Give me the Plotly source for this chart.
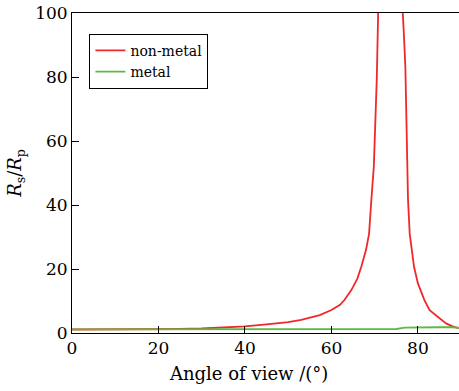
import plotly.graph_objects as go

# Non-metal R_s/R_p versus angle of view
nonmetal_x = [0, 10, 20, 25, 30, 35, 40, 45, 50, 53, 55, 57.3, 60, 62, 63, 64.6, 66, 66.9,
              68, 68.7, 69.2, 69.8, 70.2, 70.5, 70.8, 71.2, 73.5,
              76.2, 76.5, 76.8, 77.1, 77.4, 77.7, 78.1, 78.6, 79.1, 80, 81.5, 82.7,
              84, 85, 86.5, 88, 89.1, 89.5]
nonmetal_y = [1.1, 1.1, 1.15, 1.25, 1.4, 1.7, 2.1, 2.7, 3.4, 4.1, 4.7, 5.6, 7.2, 8.8, 10.3,
              13.4, 17.0, 20.7, 26, 31, 41, 52, 68, 80, 100, 125, 400,
              125, 100, 92, 83, 62.5, 42, 31, 25, 20.7, 15.5, 10.3, 7.1,
              5.6, 4.6, 3.0, 2.1, 1.7, 1.5]

# Metal R_s/R_p versus angle of view
metal_x = [0, 20, 40, 60, 70, 75, 77, 80, 85, 88, 89.5]
metal_y = [1.15, 1.15, 1.15, 1.15, 1.2, 1.25, 1.7, 1.8, 1.8, 1.8, 1.6]

x_ticks = [0, 20, 40, 60, 80]
y_ticks = [0, 20, 40, 60, 80, 100]

font_family = "DejaVu Serif"

fig = go.Figure()
fig.add_trace(go.Scatter(x=nonmetal_x, y=nonmetal_y, mode="lines", name="non-metal",
                         line=dict(color="#f0282a", width=1.8)))
fig.add_trace(go.Scatter(x=metal_x, y=metal_y, mode="lines", name="metal",
                         line=dict(color="#5cb946", width=1.8)))

axis_common = dict(showgrid=False, zeroline=False, showline=True, linecolor="black",
                   linewidth=1, ticks="inside", ticklen=7, tickcolor="black",
                   tickfont=dict(family=font_family, size=17, color="black"))

fig.update_layout(
    width=459, height=391,
    margin=dict(l=72, r=0, t=13, b=58),
    paper_bgcolor="white", plot_bgcolor="white",
    showlegend=True,
    legend=dict(x=0.045, y=0.935, xanchor="left", yanchor="top",
                bordercolor="black", borderwidth=1, bgcolor="white",
                font=dict(family=font_family, size=14, color="black"),
                tracegroupgap=0, itemwidth=30),
    xaxis=dict(range=[0, 89.5], tickvals=x_ticks, mirror=True, **axis_common),
    yaxis=dict(range=[0, 100], tickvals=y_ticks,
               title=dict(text="<i>R</i><sub>s</sub>/<i>R</i><sub>p</sub>", standoff=8,
                          font=dict(family=font_family, size=18, color="black")),
               **axis_common),
    annotations=[dict(text="Angle of view /(°)", xref="paper", yref="paper",
                      x=0.455, y=-0.125, xanchor="center", yanchor="middle",
                      showarrow=False,
                      font=dict(family=font_family, size=18, color="black"))],
)

fig.write_html("out.html")
